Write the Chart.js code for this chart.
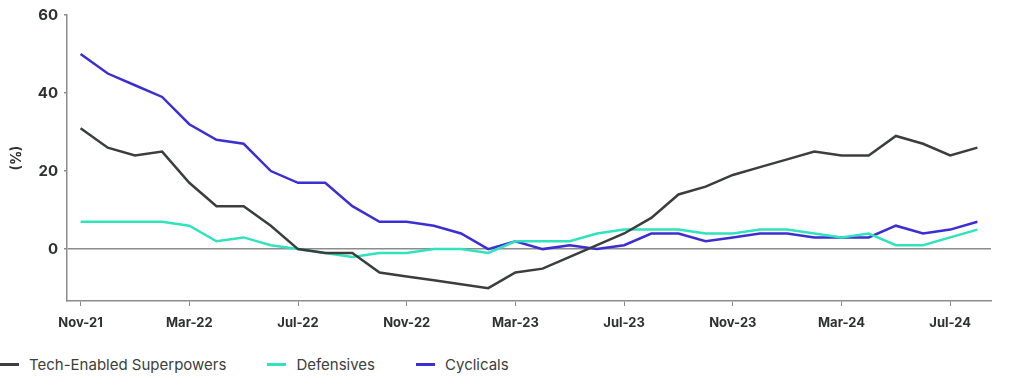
<!DOCTYPE html>
<html>
<head>
<meta charset="utf-8">
<script src="https://cdn.jsdelivr.net/npm/chart.js@4.4.1/dist/chart.umd.min.js"></script>
<style>
  html, body { margin: 0; padding: 0; background: #fff; }
  #wrap { position: relative; width: 1019px; height: 389px; }
  #box { position: absolute; left: 0; top: 0; width: 1019px; height: 345px; }
  #legend { position: absolute; left: 0; top: 352px; height: 24px; display: flex; align-items: center;
    font-family: Inter, "Noto Sans", sans-serif; font-size: 15px; color: #3b403e; }
  #legend .item { display: flex; align-items: center; margin-right: 41px; }
  #legend .sw { width: 19px; height: 3px; margin-right: 10px; }
</style>
</head>
<body>
<div id="wrap">
  <div id="box"><canvas id="chart"></canvas></div>
  <div id="legend"></div>
</div>
<script>
const months = ['Nov-21', 'Dec-21', 'Jan-22', 'Feb-22', 'Mar-22', 'Apr-22', 'May-22', 'Jun-22', 'Jul-22',
    'Aug-22', 'Sep-22', 'Oct-22', 'Nov-22', 'Dec-22', 'Jan-23', 'Feb-23', 'Mar-23', 'Apr-23', 'May-23',
    'Jun-23', 'Jul-23', 'Aug-23', 'Sep-23', 'Oct-23', 'Nov-23', 'Dec-23', 'Jan-24', 'Feb-24', 'Mar-24',
    'Apr-24', 'May-24', 'Jun-24', 'Jul-24', 'Aug-24'];

const techValues = [31, 26, 24, 25, 17, 11, 11, 6, 0, -1, -1, -6, -7, -8, -9, -10, -6, -5, -2,
    1, 4, 8, 14, 16, 19, 21, 23, 25, 24, 24, 29, 27, 24, 26];
const defensiveValues = [7, 7, 7, 7, 6, 2, 3, 1, 0, -1, -2, -1, -1, 0, 0, -1, 2, 2, 2,
    4, 5, 5, 5, 4, 4, 5, 5, 4, 3, 4, 1, 1, 3, 5];
const cyclicalValues = [50, 45, 42, 39, 32, 28, 27, 20, 17, 17, 11, 7, 7, 6, 4, 0, 2, 0, 1,
    0, 1, 4, 4, 2, 3, 4, 4, 3, 3, 3, 6, 4, 5, 7];

const yTicks = [0, 20, 40, 60];

const seriesNames = ['Tech-Enabled Superpowers', 'Defensives', 'Cyclicals'];
const seriesColors = ['#3a3f3d', '#31e3bd', '#3b2fd4'];

const axisGray = '#8c8c8c';
const textColor = '#2b3230';

const ctx = document.getElementById('chart').getContext('2d');
const chart = new Chart(ctx, {
    type: 'line',
    data: {
        labels: months,
        datasets: [techValues, defensiveValues, cyclicalValues].map((vals, i) => ({
            label: seriesNames[i],
            data: vals,
            borderColor: seriesColors[i],
            backgroundColor: seriesColors[i],
            borderWidth: 2.5,
            pointRadius: 0,
            tension: 0
        }))
    },
    options: {
        responsive: true,
        maintainAspectRatio: false,
        animation: false,
        layout: { padding: { left: 0, right: 28, top: 14, bottom: 0 } },
        plugins: {
            legend: { display: false },
            tooltip: { enabled: false }
        },
        scales: {
            x: {
                type: 'category',
                offset: true,
                grid: {
                    drawOnChartArea: false,
                    tickLength: 5,
                    tickColor: c => (c.index % 4 === 0 ? axisGray : 'rgba(0,0,0,0)')
                },
                border: { color: axisGray, width: 1.5 },
                ticks: {
                    autoSkip: false,
                    maxRotation: 0,
                    padding: 9,
                    color: textColor,
                    font: { family: 'Inter', size: 13, weight: 'bold' },
                    callback: function (v, i) { return i % 4 === 0 ? this.getLabelForValue(v) : ''; }
                },
                afterFit: s => { s.height = 44; }
            },
            y: {
                min: -13.3,
                max: 60,
                afterBuildTicks: s => { s.ticks = yTicks.map(v => ({ value: v })); },
                grid: {
                    color: c => (c.tick && c.tick.value === 0 ? axisGray : 'rgba(0,0,0,0)'),
                    lineWidth: 1.5,
                    tickLength: 3,
                    tickColor: axisGray
                },
                border: { color: axisGray, width: 1.5 },
                ticks: {
                    padding: 6,
                    color: textColor,
                    font: { family: 'Inter', size: 15, weight: 'bold' }
                },
                title: {
                    display: true,
                    text: '(%)',
                    color: textColor,
                    padding: 8,
                    font: { family: 'Inter', size: 14, weight: 'bold' }
                },
                afterFit: s => { s.width = 67; }
            }
        }
    }
});

// legend below the canvas
const legendEl = document.getElementById('legend');
seriesNames.forEach((name, i) => {
    const item = document.createElement('div');
    item.className = 'item';
    item.innerHTML = `<span class="sw" style="background:${seriesColors[i]}"></span><span>${name}</span>`;
    legendEl.appendChild(item);
});
</script>
</body>
</html>
